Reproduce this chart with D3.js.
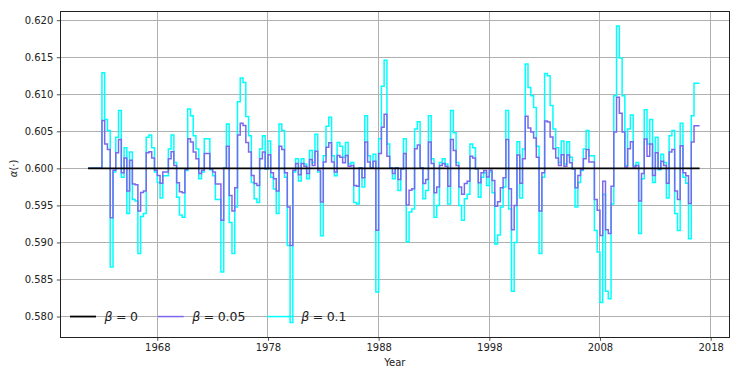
<!DOCTYPE html>
<html>
<head>
<meta charset="utf-8">
<script src="https://cdn.jsdelivr.net/npm/d3@7"></script>
<style>
  body { margin: 0; background: #fff; }
  text { font-family: "DejaVu Sans", sans-serif; fill: #222; }
</style>
</head>
<body>
<div id="chart"></div>
<script>
// quarterly dates, 1961Q4 .. 2017Q1
var quarters = d3.timeMonth.every(3).range(new Date(1961, 9, 1), new Date(2017, 1, 2));

// beta = 0 stays flat
var alphaBeta0 = 0.6;

// beta = 0.05
var alphaBeta005 = [
  0.6, 0.6, 0.6, 0.6, 0.6, 0.6,
  0.60645, 0.6033, 0.60255, 0.59335, 0.59975, 0.6021, 0.6039, 0.5994, 0.6014, 0.59695,
  0.6011, 0.5979, 0.5978, 0.59425, 0.59675, 0.59695, 0.6021, 0.60225, 0.6014, 0.59975,
  0.59905, 0.598, 0.5995, 0.5995, 0.6013, 0.60225, 0.6004, 0.59805, 0.59685, 0.5967,
  0.59985, 0.604, 0.60355, 0.6022, 0.6013, 0.5993, 0.59975, 0.602, 0.602, 0.5999,
  0.5995, 0.5979, 0.5979, 0.593, 0.6, 0.603, 0.59635, 0.59425, 0.5974, 0.6045,
  0.6061, 0.6058, 0.6035, 0.6022, 0.59905, 0.59795, 0.5977, 0.6013, 0.6022, 0.59995,
  0.60185, 0.5994, 0.5986, 0.59695, 0.603, 0.60255, 0.5994, 0.5948, 0.5896, 0.59975,
  0.60065, 0.59915, 0.60065, 0.6003, 0.5993, 0.6012, 0.6004, 0.6023, 0.59975, 0.59545,
  0.60085, 0.60285, 0.60345, 0.60085, 0.5995, 0.60175, 0.6015, 0.60075, 0.60175, 0.6003,
  0.6004, 0.5977, 0.5976, 0.60005, 0.59875, 0.60355, 0.60085, 0.60005, 0.60095, 0.59165,
  0.602, 0.60555, 0.6073, 0.60165, 0.60005, 0.5993, 0.60005, 0.5985, 0.59995, 0.602,
  0.59505, 0.59705, 0.59725, 0.60265, 0.60315, 0.60005, 0.59795, 0.5985, 0.60355, 0.60065,
  0.5967, 0.5975, 0.6004, 0.60065, 0.6003, 0.5976, 0.6039, 0.6024, 0.6004, 0.5975,
  0.5965, 0.59795, 0.59825, 0.60165, 0.6014, 0.59995, 0.59805, 0.5994, 0.5997, 0.59885,
  0.59975, 0.59835, 0.5949, 0.5955, 0.5974, 0.59875, 0.6039, 0.59725, 0.5917, 0.595,
  0.6018, 0.598, 0.6013, 0.60705, 0.60545, 0.6049, 0.6041, 0.6015, 0.59425, 0.5994,
  0.6064, 0.60625, 0.60425, 0.60265, 0.6014, 0.6004, 0.60185, 0.6003, 0.6018, 0.60075,
  0.59995, 0.5974, 0.59905, 0.59985, 0.6013, 0.60255, 0.60085, 0.60085, 0.5958, 0.59435,
  0.59095, 0.59825, 0.5917, 0.5912, 0.5976, 0.6049, 0.6096, 0.60745, 0.6049, 0.6002,
  0.60265, 0.6036, 0.6002, 0.6004, 0.5956, 0.5993, 0.60395, 0.60165, 0.6033, 0.59905,
  0.6021, 0.5999, 0.60095, 0.6004, 0.598, 0.6022, 0.60255, 0.59695, 0.5958, 0.60305,
  0.5994, 0.599, 0.59525, 0.60355, 0.60575, 0.60575
];

// beta = 0.1
var alphaBeta01 = [
  0.6, 0.6, 0.6, 0.6, 0.6, 0.6,
  0.6129, 0.6066, 0.6051, 0.5867, 0.5995, 0.6042, 0.6078, 0.5988, 0.6028, 0.5939,
  0.6022, 0.5958, 0.5956, 0.5885, 0.5935, 0.5939, 0.6042, 0.6045, 0.6028, 0.5995,
  0.5981, 0.5960, 0.5990, 0.5990, 0.6026, 0.6045, 0.6008, 0.5961, 0.5937, 0.5934,
  0.5997, 0.6080, 0.6071, 0.6044, 0.6026, 0.5986, 0.5995, 0.6040, 0.6040, 0.5998,
  0.5990, 0.5958, 0.5958, 0.5860, 0.6000, 0.6060, 0.5927, 0.5885, 0.5948, 0.6090,
  0.6122, 0.6116, 0.6070, 0.6044, 0.5981, 0.5959, 0.5954, 0.6026, 0.6044, 0.5999,
  0.6037, 0.5988, 0.5972, 0.5939, 0.6060, 0.6051, 0.5988, 0.5896, 0.5792, 0.5995,
  0.6013, 0.5983, 0.6013, 0.6006, 0.5986, 0.6024, 0.6008, 0.6046, 0.5995, 0.5909,
  0.6017, 0.6057, 0.6069, 0.6017, 0.5990, 0.6035, 0.6030, 0.6015, 0.6035, 0.6006,
  0.6008, 0.5954, 0.5952, 0.6001, 0.5975, 0.6071, 0.6017, 0.6001, 0.6019, 0.5833,
  0.6040, 0.6111, 0.6146, 0.6033, 0.6001, 0.5986, 0.6001, 0.5970, 0.5999, 0.6040,
  0.5901, 0.5941, 0.5945, 0.6053, 0.6063, 0.6001, 0.5959, 0.5970, 0.6071, 0.6013,
  0.5934, 0.5950, 0.6008, 0.6013, 0.6006, 0.5952, 0.6078, 0.6048, 0.6008, 0.5950,
  0.5930, 0.5959, 0.5965, 0.6033, 0.6028, 0.5999, 0.5961, 0.5988, 0.5994, 0.5977,
  0.5995, 0.5967, 0.5898, 0.5910, 0.5948, 0.5975, 0.6078, 0.5945, 0.5834, 0.5900,
  0.6036, 0.5960, 0.6026, 0.6141, 0.6109, 0.6098, 0.6082, 0.6030, 0.5885, 0.5988,
  0.6128, 0.6125, 0.6085, 0.6053, 0.6028, 0.6008, 0.6037, 0.6006, 0.6036, 0.6015,
  0.5999, 0.5948, 0.5981, 0.5997, 0.6026, 0.6051, 0.6017, 0.6017, 0.5916, 0.5887,
  0.5819, 0.5965, 0.5834, 0.5824, 0.5952, 0.6098, 0.6192, 0.6149, 0.6098, 0.6004,
  0.6053, 0.6072, 0.6004, 0.6008, 0.5912, 0.5986, 0.6079, 0.6033, 0.6066, 0.5981,
  0.6042, 0.5998, 0.6019, 0.6008, 0.5960, 0.6044, 0.6051, 0.5939, 0.5916, 0.6061,
  0.5988, 0.5980, 0.5905, 0.6071, 0.6115, 0.6115
];

var xTickYears = [1968, 1978, 1988, 1998, 2008, 2018];
var yTicks = [0.580, 0.585, 0.590, 0.595, 0.600, 0.605, 0.610, 0.615, 0.620];

var width = 740,
    height = 375,
    margin = {top: 11.3, right: 10.7, bottom: 37.7, left: 60.3};

var svg = d3.select("#chart").append("svg")
    .attr("width", width)
    .attr("height", height);

svg.append("rect").attr("width", width).attr("height", height).attr("fill", "#fff");

// 5% padding like the original axes
var xExt = d3.extent(quarters),
    xPad = (xExt[1] - xExt[0]) * 0.05;
var x = d3.scaleTime()
    .domain([new Date(+xExt[0] - xPad + 2.2e6 * 3600), new Date(+xExt[1] + xPad - 0.7e6 * 3600)])
    .range([margin.left, width - margin.right]);

var yExt = d3.extent(alphaBeta01.concat(alphaBeta005)),
    yPad = (yExt[1] - yExt[0]) * 0.05;
var y = d3.scaleLinear()
    .domain([yExt[0] - yPad, yExt[1] + yPad])
    .range([height - margin.bottom, margin.top]);

// grid
var grid = svg.append("g").attr("shape-rendering", "crispEdges");
grid.selectAll(".gx")
    .data(xTickYears)
  .enter().append("line")
    .attr("x1", function(d) { return x(new Date(d, 0, 1)); })
    .attr("x2", function(d) { return x(new Date(d, 0, 1)); })
    .attr("y1", margin.top)
    .attr("y2", height - margin.bottom)
    .attr("stroke", "#b0b0b0")
    .attr("stroke-width", 1);
grid.selectAll(".gy")
    .data(yTicks)
  .enter().append("line")
    .attr("x1", margin.left)
    .attr("x2", width - margin.right)
    .attr("y1", function(d) { return y(d); })
    .attr("y2", function(d) { return y(d); })
    .attr("stroke", "#b0b0b0")
    .attr("stroke-width", 1);

// series
var series = [
  {label: "0.1", color: "#00ffff", width: 1.5, values: alphaBeta01},
  {label: "0.05", color: "#7b68ee", width: 1.5, values: alphaBeta005},
  {label: "0", color: "#000000", width: 1.8, values: quarters.map(function() { return alphaBeta0; })}
];

var line = d3.line()
    .curve(d3.curveStepBefore)
    .x(function(d, i) { return x(quarters[i]); })
    .y(function(d) { return y(d); });

svg.append("g")
    .selectAll("path")
    .data(series)
  .enter().append("path")
    .attr("d", function(d) { return line(d.values); })
    .attr("fill", "none")
    .attr("stroke", function(d) { return d.color; })
    .attr("stroke-width", function(d) { return d.width; });

// axes
var xAxis = d3.axisBottom(x)
    .tickValues(xTickYears.map(function(d) { return new Date(d, 0, 1); }))
    .tickFormat(d3.timeFormat("%Y"))
    .tickSizeInner(3.5).tickSizeOuter(0).tickPadding(3.5);
var yAxis = d3.axisLeft(y)
    .tickValues(yTicks)
    .tickFormat(d3.format(".3f"))
    .tickSizeInner(3.5).tickSizeOuter(0).tickPadding(3.5);

var gx = svg.append("g")
    .attr("transform", "translate(0," + (height - margin.bottom) + ")")
    .call(xAxis);
var gy = svg.append("g")
    .attr("transform", "translate(" + margin.left + ",0)")
    .call(yAxis);
[gx, gy].forEach(function(g) {
  g.select(".domain").remove();
  g.selectAll("text").attr("font-size", 10).attr("font-family", "DejaVu Sans").attr("fill", "#222");
  g.selectAll("line").attr("stroke", "#222").attr("stroke-width", 0.8);
});

// frame
svg.append("rect")
    .attr("x", margin.left)
    .attr("y", margin.top)
    .attr("width", width - margin.left - margin.right)
    .attr("height", height - margin.top - margin.bottom)
    .attr("fill", "none")
    .attr("stroke", "#222")
    .attr("stroke-width", 1)
    .attr("shape-rendering", "crispEdges");

// axis labels
svg.append("text")
    .attr("x", margin.left + (width - margin.left - margin.right) / 2)
    .attr("y", 366)
    .attr("text-anchor", "middle")
    .attr("font-size", 10)
    .text("Year");

var yl = svg.append("text")
    .attr("transform", "translate(17," + y(0.6) + ") rotate(-90)")
    .attr("text-anchor", "middle")
    .attr("font-size", 10);
yl.append("tspan").attr("font-style", "italic").text("α");
yl.append("tspan").text("(·)");

// legend, no frame
var legend = svg.append("g").attr("transform", "translate(70," + y(0.58) + ")");
var entryX = [0, 87.7, 196.7];
series.slice().reverse().forEach(function(s, i) {
  var lx = entryX[i];
  legend.append("line")
      .attr("x1", lx).attr("x2", lx + 26)
      .attr("y1", 0).attr("y2", 0)
      .attr("stroke", s.color)
      .attr("stroke-width", s.width);
  var t = legend.append("text")
      .attr("x", lx + 34.5)
      .attr("y", 0)
      .attr("dy", "0.35em")
      .attr("font-size", 12.5);
  t.append("tspan").attr("font-style", "italic").text("β");
  t.append("tspan").attr("dx", 3.5).text("=");
  t.append("tspan").attr("dx", 3.5).text(s.label);
});
</script>
</body>
</html>
